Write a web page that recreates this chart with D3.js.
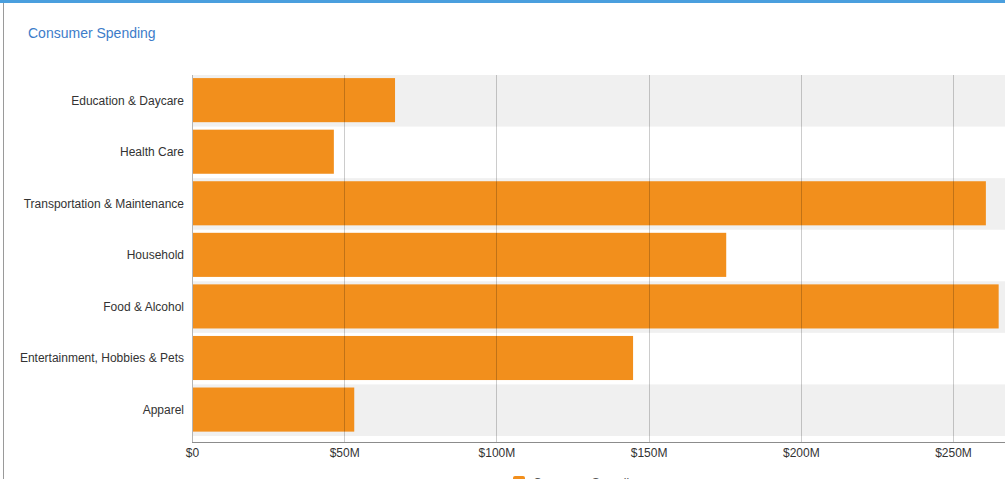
<!DOCTYPE html>
<html>
<head>
<meta charset="utf-8">
<script src="https://cdn.jsdelivr.net/npm/d3@7"></script>
<style>
  html, body { margin: 0; padding: 0; background: #fff; }
  svg { display: block; font-family: "Helvetica Neue", Arial, "Liberation Sans", sans-serif; }
</style>
</head>
<body>
<script>
// data
const categories = [
  "Education & Daycare",
  "Health Care",
  "Transportation & Maintenance",
  "Household",
  "Food & Alcohol",
  "Entertainment, Hobbies & Pets",
  "Apparel"
];
const spending = [66.7e6, 46.6e6, 260.8e6, 175.5e6, 265.0e6, 144.9e6, 53.3e6];
const tickValues = [0, 50e6, 100e6, 150e6, 200e6, 250e6];
const legendLabel = "Consumer Spending";

const W = 1005, H = 479;
const plotLeft = 192, plotTop = 75, bandBottom = 436, axisY = 442;

const svg = d3.select("body").append("svg")
  .attr("width", W)
  .attr("height", H);

// page frame: blue strip on top, grey line at left
svg.append("rect").attr("x", 0).attr("y", 0).attr("width", W).attr("height", 3).attr("fill", "#4a9fde");
svg.append("line").attr("x1", 3.5).attr("x2", 3.5).attr("y1", 3).attr("y2", H)
  .attr("stroke", "#9a9a9a").attr("stroke-width", 1);

svg.append("text")
  .attr("x", 28).attr("y", 38)
  .attr("fill", "#3d7cc9")
  .attr("font-size", 14)
  .text("Consumer Spending");

const x = d3.scaleLinear()
  .domain([0, 280e6])
  .range([plotLeft, plotLeft + 280 * 3.044]);

const y = d3.scaleBand()
  .domain(categories)
  .range([plotTop, bandBottom])
  .padding(0);

// alternating stripes
svg.append("g").selectAll("rect")
  .data(categories.filter((d, i) => i % 2 === 0))
  .enter().append("rect")
  .attr("x", plotLeft)
  .attr("y", d => y(d))
  .attr("width", W - plotLeft)
  .attr("height", y.bandwidth())
  .attr("fill", "#f0f0f0");

// bars
const bw = y.bandwidth();
svg.append("g").selectAll("rect")
  .data(categories)
  .enter().append("rect")
  .attr("x", x(0))
  .attr("y", d => y(d) + bw * 0.06)
  .attr("width", (d, i) => x(spending[i]) - x(0))
  .attr("height", bw * 0.855)
  .attr("fill", "#f28f1c");

// grid lines over the bars
svg.append("g").selectAll("line")
  .data(tickValues.slice(1))
  .enter().append("line")
  .attr("x1", d => Math.round(x(d)) + 0.5)
  .attr("x2", d => Math.round(x(d)) + 0.5)
  .attr("y1", plotTop)
  .attr("y2", axisY)
  .attr("stroke", "#000")
  .attr("stroke-opacity", 0.2);

// left axis line
svg.append("line")
  .attr("x1", plotLeft + 0.5).attr("x2", plotLeft + 0.5)
  .attr("y1", plotTop).attr("y2", axisY)
  .attr("stroke", "#b5b5b5");

// x axis
const xAxis = d3.axisBottom(x)
  .tickValues(tickValues)
  .tickSize(0)
  .tickPadding(6)
  .tickFormat(d => d === 0 ? "$0" : "$" + (d / 1e6) + "M");

const gx = svg.append("g")
  .attr("transform", "translate(0," + axisY + ")")
  .call(xAxis);
gx.select(".domain").remove();
gx.append("line")
  .attr("x1", plotLeft).attr("x2", W)
  .attr("y1", 0.5).attr("y2", 0.5)
  .attr("stroke", "#8c8c8c");
gx.selectAll("text")
  .attr("fill", "#333")
  .attr("font-size", 12)
  .attr("font-family", "\"Helvetica Neue\", Arial, \"Liberation Sans\", sans-serif");

// y axis labels
const yAxis = d3.axisLeft(y).tickSize(0).tickPadding(8);
const gy = svg.append("g")
  .attr("transform", "translate(" + plotLeft + ",0)")
  .call(yAxis);
gy.select(".domain").remove();
gy.selectAll("text")
  .attr("fill", "#333")
  .attr("font-size", 12)
  .attr("font-family", "\"Helvetica Neue\", Arial, \"Liberation Sans\", sans-serif");

// legend, cut by the bottom edge
const lg = svg.append("g").attr("transform", "translate(513,476)");
lg.append("rect").attr("width", 12).attr("height", 12).attr("rx", 2).attr("fill", "#f28f1c");
lg.append("text").attr("x", 20).attr("y", 11)
  .attr("font-size", 12).attr("fill", "#555")
  .text(legendLabel);
</script>
</body>
</html>
